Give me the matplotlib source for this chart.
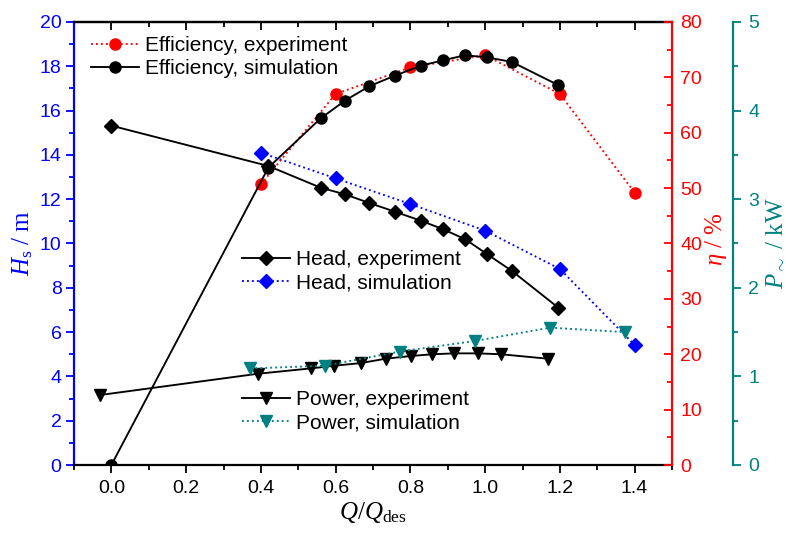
import numpy as np
import matplotlib
matplotlib.use("Agg")
import matplotlib.pyplot as plt
from matplotlib.ticker import MultipleLocator

plt.rcParams['font.family'] = ['Liberation Sans', 'DejaVu Sans']
plt.rcParams['mathtext.fontset'] = 'custom'
plt.rcParams['mathtext.rm'] = 'Liberation Serif'
plt.rcParams['mathtext.it'] = 'Liberation Serif:italic'

# Efficiency (%)
x_eff_exp = [0.4, 0.6, 0.8, 1.0, 1.2, 1.4]
eff_exp = [50.7, 67.0, 71.8, 74.0, 67.0, 49.2]
x_exp = [0.0, 0.42, 0.56, 0.625, 0.69, 0.758, 0.828, 0.888, 0.947, 1.006, 1.071, 1.196]
eff_sim = [0.0, 53.7, 62.6, 65.8, 68.4, 70.3, 72.1, 73.1, 74.0, 73.6, 72.8, 68.6]

# Head (m)
head_exp = [15.32, 13.5, 12.52, 12.22, 11.83, 11.44, 11.03, 10.64, 10.19, 9.51, 8.77, 7.10]
x_head_sim = [0.4, 0.6, 0.8, 1.0, 1.2, 1.4]
head_sim = [14.10, 12.94, 11.78, 10.58, 8.85, 5.42]

# Power (kW)
x_pow_exp = [-0.03, 0.392, 0.533, 0.595, 0.667, 0.734, 0.801, 0.859, 0.918, 0.980, 1.042, 1.167]
pow_exp = [0.79, 1.03, 1.09, 1.12, 1.15, 1.20, 1.23, 1.25, 1.26, 1.26, 1.25, 1.20]
x_pow_sim = [0.372, 0.571, 0.771, 0.973, 1.174, 1.373]
pow_sim = [1.09, 1.12, 1.28, 1.40, 1.55, 1.50]

BLUE = '#0000FF'
RED = '#FF0000'
TEAL = '#008080'
lw = 1.35

fig = plt.figure(figsize=(7.86, 5.35), dpi=100)
ax = fig.add_axes([74/786, 70/535, 598/786, 443/535])
ax2 = ax.twinx()
ax3 = ax.twinx()

# head on left axis
l_he, = ax.plot(x_exp, head_exp, '-', color='black', lw=lw, marker='D', ms=7)
l_hs, = ax.plot(x_head_sim, head_sim, ':', color=BLUE, lw=lw, marker='D', ms=7)

# efficiency on red axis
l_ee, = ax2.plot(x_eff_exp, eff_exp, ':', color=RED, lw=lw, marker='o', ms=8)
l_es, = ax2.plot(x_exp, eff_sim, '-', color='black', lw=lw, marker='o', ms=8)

# power on teal axis
l_pe, = ax3.plot(x_pow_exp, pow_exp, '-', color='black', lw=lw, marker='v', ms=8.5)
l_ps, = ax3.plot(x_pow_sim, pow_sim, ':', color=TEAL, lw=lw, marker='v', ms=8.5)

ax.set_xlim(-0.1, 1.5)
ax.set_ylim(0, 20)
ax2.set_ylim(0, 80)
ax3.set_ylim(0, 5)

ax.set_xticks(np.arange(0, 1.41, 0.2))
ax.set_xticklabels(['%.1f' % v for v in np.arange(0, 1.41, 0.2)])
ax.xaxis.set_minor_locator(MultipleLocator(0.1))
ax.yaxis.set_major_locator(MultipleLocator(2))
ax.yaxis.set_minor_locator(MultipleLocator(1))
ax2.yaxis.set_major_locator(MultipleLocator(10))
ax2.yaxis.set_minor_locator(MultipleLocator(5))
ax3.yaxis.set_major_locator(MultipleLocator(1))
ax3.yaxis.set_minor_locator(MultipleLocator(0.5))

# spines
ax.spines['left'].set_color(BLUE)
ax.spines['right'].set_visible(False)
for s in ['left', 'top', 'bottom']:
    ax2.spines[s].set_visible(False)
    ax3.spines[s].set_visible(False)
ax2.spines['right'].set_color(RED)
ax3.spines['right'].set_color(TEAL)
ax3.spines['right'].set_position(('axes', 1.102))
for a in (ax, ax2, ax3):
    for s in a.spines.values():
        s.set_linewidth(1.6)

ax.tick_params(axis='x', which='major', direction='out', length=6, width=1.3,
               labelsize=14, pad=5)
ax.tick_params(axis='x', which='minor', direction='out', length=3.5, width=1.3)
ax.tick_params(axis='y', which='major', direction='out', length=6, width=1.3,
               colors=BLUE, labelsize=14, pad=3)
ax.tick_params(axis='y', which='minor', direction='out', length=3.5, width=1.3,
               colors=BLUE)
ax2.tick_params(axis='y', which='major', direction='in', length=6, width=1.3,
                colors=RED, labelsize=14, pad=6)
ax2.tick_params(axis='y', which='minor', direction='in', length=3.5, width=1.3,
                colors=RED)
ax3.tick_params(axis='y', which='major', direction='out', length=6, width=1.3,
                colors=TEAL, labelsize=14, pad=5)
ax3.tick_params(axis='y', which='minor', direction='out', length=3.5, width=1.3,
                colors=TEAL)

# top axis with inward ticks
top = ax.secondary_xaxis('top')
top.set_xticks(np.arange(0, 1.41, 0.2))
top.xaxis.set_minor_locator(MultipleLocator(0.1))
top.tick_params(axis='x', which='major', direction='in', length=6, width=1.3,
                labeltop=False)
top.tick_params(axis='x', which='minor', direction='in', length=3.5, width=1.3)
top.spines['top'].set_linewidth(1.6)

# labels
ax.set_xlabel(r'$Q/Q_{\rm des}$', fontsize=18, labelpad=2)
ax.set_ylabel(r'$H_{\rm s}\ \rm /\ m$', fontsize=18, color=BLUE)
ax.yaxis.set_label_coords(-0.066, 0.5)
ax2.set_ylabel(r'$\eta\ \rm /\ \%$', fontsize=18, color=RED)
ax2.yaxis.set_label_coords(1.052, 0.51)
ax3.set_ylabel(r'$P_{\sim}\ \rm /\ kW$', fontsize=18, color=TEAL)
ax3.yaxis.set_label_coords(1.152, 0.5)

leg_kw = dict(frameon=False, fontsize=15, handlelength=2.3, handletextpad=0.3,
              labelspacing=0.2, borderpad=0, borderaxespad=0, loc='center left')
fig.legend([l_ee, l_es], ['Efficiency, experiment', 'Efficiency, simulation'],
           bbox_to_anchor=(91/786, 1 - 57/535), **leg_kw)
fig.legend([l_he, l_hs], ['Head, experiment', 'Head, simulation'],
           bbox_to_anchor=(242/786, 1 - 271.5/535), **leg_kw)
fig.legend([l_pe, l_ps], ['Power, experiment', 'Power, simulation'],
           bbox_to_anchor=(242/786, 1 - 411.5/535), **leg_kw)

fig.savefig('out.png', dpi=100)
